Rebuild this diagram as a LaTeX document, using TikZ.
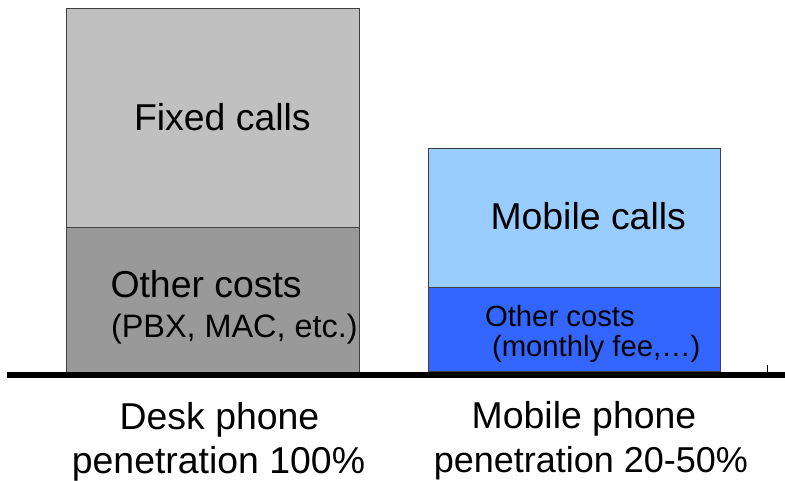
\documentclass[tikz,border=0pt]{standalone}
\usepackage{fontspec}
\setmainfont{Liberation Sans}
\definecolor{lightgr}{HTML}{C0C0C0}
\definecolor{darkgr}{HTML}{999999}
\definecolor{lightblue}{HTML}{99CCFF}
\definecolor{mblue}{HTML}{3366FF}
\begin{document}
\begin{tikzpicture}[x=1pt,y=-1pt,
  box/.style={draw=black!75, line width=0.8pt, inner sep=0pt, outer sep=0pt, anchor=north west},
  lbl/.style={inner sep=0pt, outer sep=0pt, anchor=base west, text=black},
  clbl/.style={inner sep=0pt, outer sep=0pt, anchor=base, text=black},
  fbig/.style={font=\fontsize{37.4}{40}\selectfont},
  fmid/.style={font=\fontsize{32.4}{36}\selectfont},
  fsmall/.style={font=\fontsize{29.3}{32}\selectfont}]
\useasboundingbox (0,0) rectangle (785,480);
% bars
\node[box, fill=lightgr, minimum width=293pt, minimum height=219.7pt] (fixed) at (66,8) {};
\node[box, fill=darkgr, minimum width=293pt, minimum height=144.3pt] (deskother) at (66,227.7) {};
\node[box, fill=lightblue, minimum width=291.7pt, minimum height=139.3pt] (mobcalls) at (428.3,148) {};
\node[box, fill=mblue, minimum width=291.7pt, minimum height=83.7pt] (mobother) at (428.3,287.3) {};
% axis
\node[fill=black, inner sep=0pt, outer sep=0pt, minimum width=778pt, minimum height=6pt, anchor=north west] (axis) at (7,372.3) {};
\coordinate (tickbot) at (767.7,365);
\draw[line width=0.6pt] (axis.north west -| tickbot) -- (tickbot);
% labels in bars
\node[lbl, fbig] (tfixed) at (134,130.7) {Fixed calls};
\node[lbl, fbig] (tmob) at (490.5,229.3) {Mobile calls};
\node[lbl, fbig] (tother) at (110.5,297.7) {Other costs};
\node[lbl, fmid] (tpbx) at (111,337.7) {(PBX, MAC, etc.)};
\node[lbl, fsmall] (tmother) at (485,326.3) {Other costs};
\node[lbl, fsmall] (tfee) at (492,356.3) {(monthly fee,…)};
% labels below
\node[clbl, fbig] (desk1) at (219.5,429) {Desk phone};
\node[clbl, fbig] (desk2) at (218.5,473.5) {penetration 100\%};
\node[clbl, fbig] (mob1) at (584,428) {Mobile phone};
\node[inner sep=0pt, outer sep=0pt, anchor=base east, font=\fontsize{36}{40}\selectfont] (mob2) at (748,472) {penetration 20-50\%};
\end{tikzpicture}
\end{document}
